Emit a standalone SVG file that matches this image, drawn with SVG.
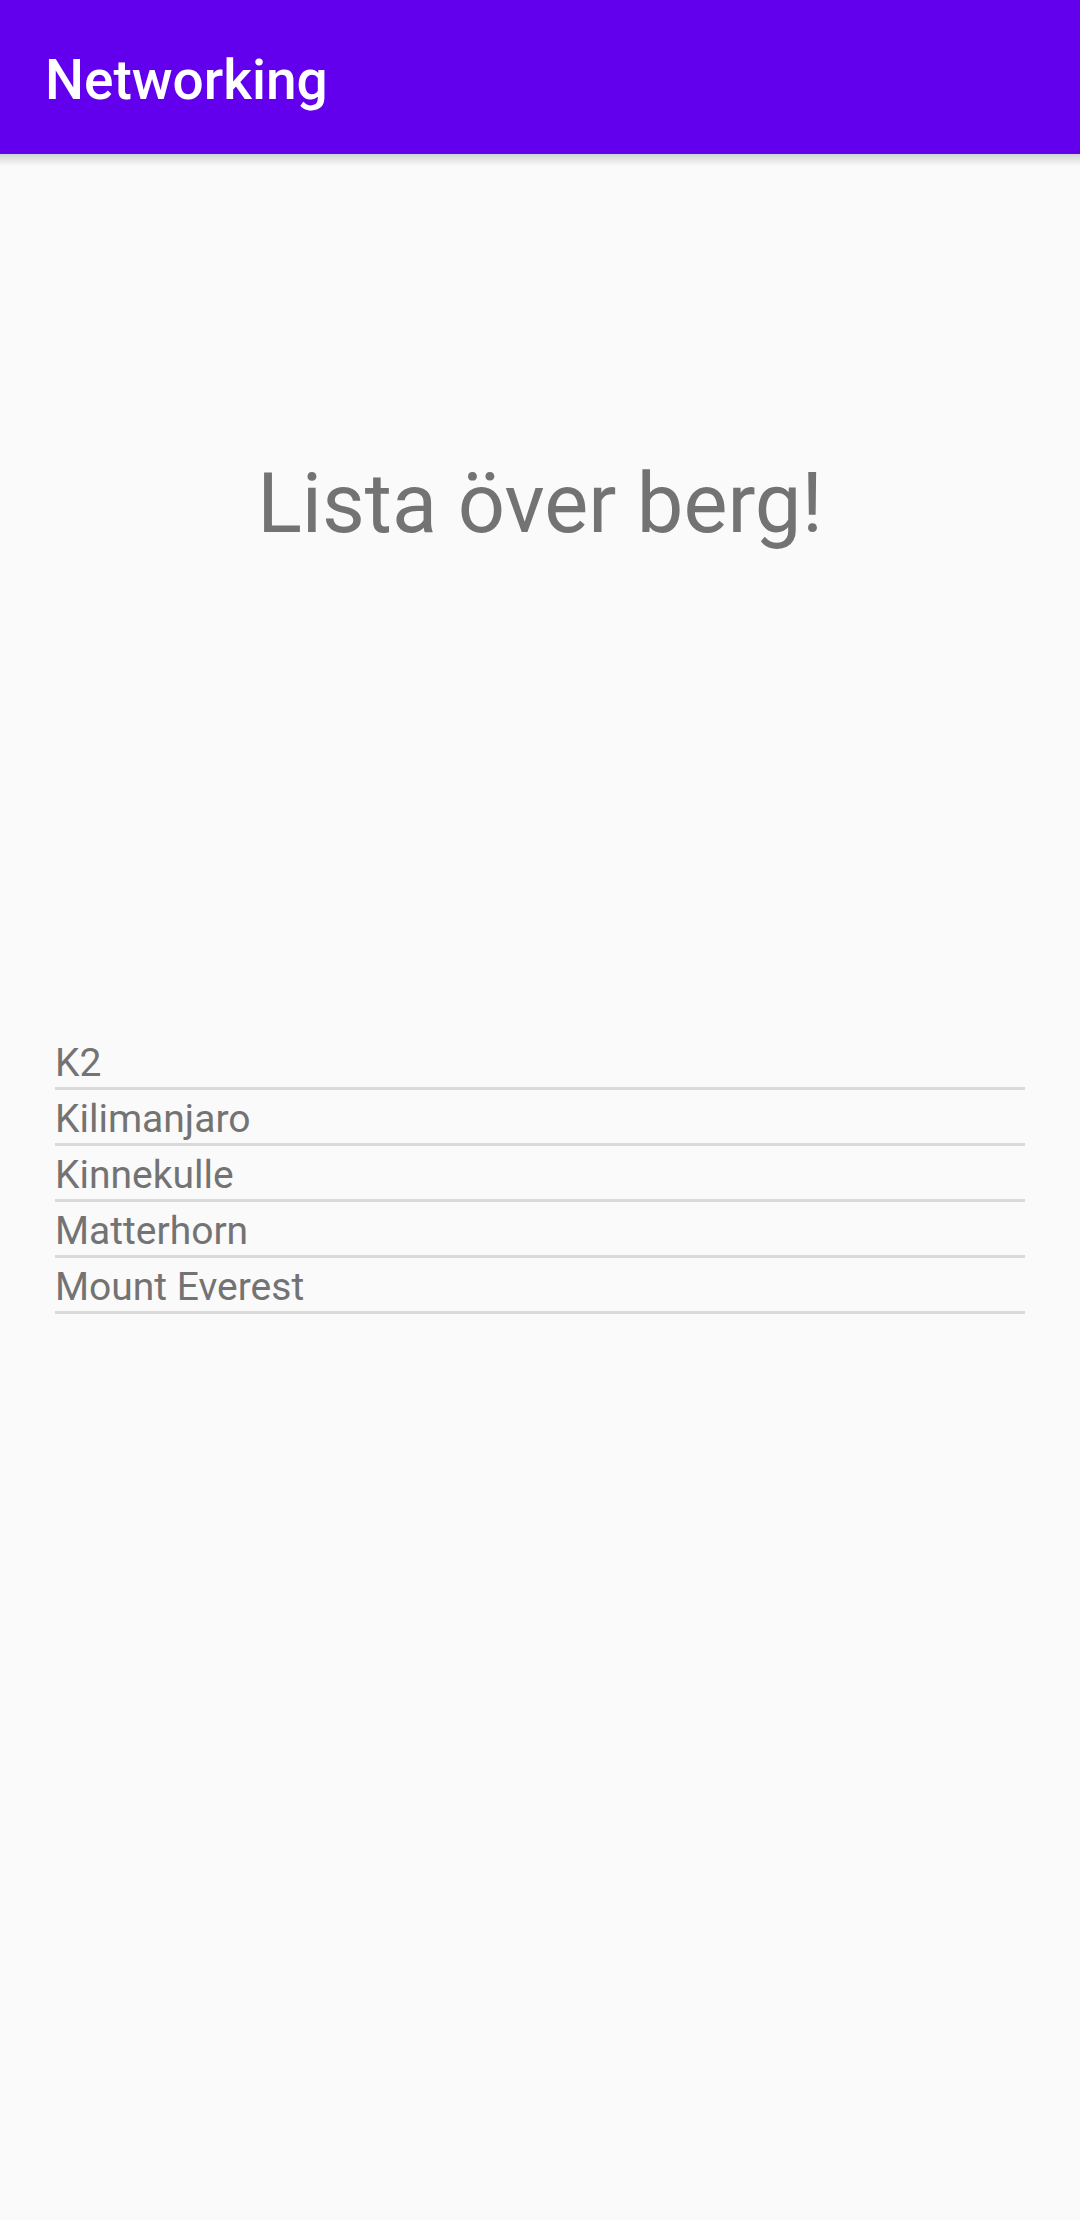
<svg xmlns="http://www.w3.org/2000/svg" width="1080" height="2220" viewBox="0 0 1080 2220">
<defs>
<linearGradient id="sh" x1="0" y1="0" x2="0" y2="1">
<stop offset="0" stop-color="#000" stop-opacity="0.16"/>
<stop offset="1" stop-color="#000" stop-opacity="0"/>
</linearGradient>
</defs>
<style>
.t{font-family:Roboto,"Liberation Sans",sans-serif}
.item{font-size:39px;fill:#737373}
.div{fill:#DADADA}
</style>
<rect width="1080" height="2220" fill="#FAFAFA"/>
<g id="appbar">
<rect x="0" y="154" width="1080" height="12" fill="url(#sh)"/>
<rect x="0" y="0" width="1080" height="154" fill="#6200EE"/>
<text class="t" x="45" y="99" font-size="55" font-weight="500" fill="#FFFFFF">Networking</text>
</g>
<g id="heading">
<text class="t" x="540" y="531.7" font-size="83" text-anchor="middle" fill="#737373">Lista över berg!</text>
</g>
<g id="list">
<g id="item-k2"><text class="t item" x="55" y="1076">K2</text><rect class="div" x="55" y="1087" width="970" height="3"/></g>
<g id="item-kilimanjaro"><text class="t item" x="55" y="1132">Kilimanjaro</text><rect class="div" x="55" y="1143" width="970" height="3"/></g>
<g id="item-kinnekulle"><text class="t item" x="55" y="1188">Kinnekulle</text><rect class="div" x="55" y="1199" width="970" height="3"/></g>
<g id="item-matterhorn"><text class="t item" x="55" y="1244">Matterhorn</text><rect class="div" x="55" y="1255" width="970" height="3"/></g>
<g id="item-everest"><text class="t item" x="55" y="1300">Mount Everest</text><rect class="div" x="55" y="1311" width="970" height="3"/></g>
</g>
<g id="connectors"/>
</svg>
